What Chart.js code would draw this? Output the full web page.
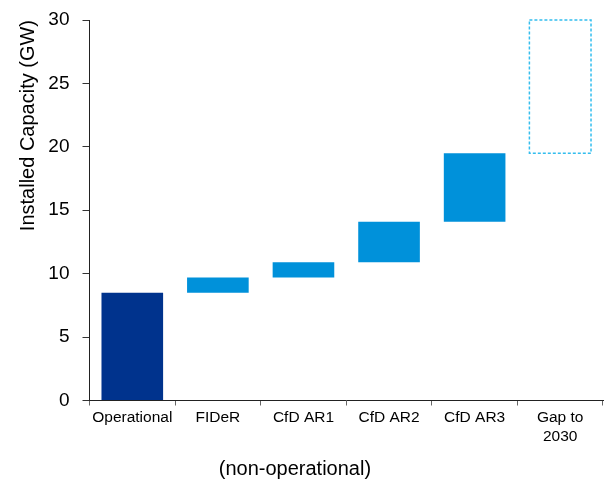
<!DOCTYPE html>
<html>
<head>
<meta charset="utf-8">
<script src="https://cdn.jsdelivr.net/npm/chart.js@4/dist/chart.umd.min.js"></script>
<style>
  html, body { margin: 0; padding: 0; background: #fff; }
  #wrap { width: 612px; height: 479px; }
</style>
</head>
<body>
<div id="wrap"><canvas id="myChart"></canvas></div>
<script>
const categories = ['Operational', 'FIDeR', 'CfD AR1', 'CfD AR2', 'CfD AR3', ['Gap to', '2030']]
const bottoms = [0, 8.5, 9.7, 10.9, 14.1, 19.5]
const tops = [8.5, 9.7, 10.9, 14.1, 19.5, 30]
const yTicks = [0, 5, 10, 15, 20, 25, 30]
const colours = ['#00338d', '#0091da', '#0091da', '#0091da', '#0091da', 'rgba(0,0,0,0)']
const gapIndex = 5

const bars = bottoms.map((b, i) => [b, tops[i]])

// the gap bar gets a dashed outline, bars can't do borderDash on their own
const dashedGap = {
  id: 'dashedGap',
  afterDatasetsDraw(chart) {
    const el = chart.getDatasetMeta(0).data[gapIndex]
    if (!el) return
    const { x, y, base, width } = el.getProps(['x', 'y', 'base', 'width'], true)
    const ctx = chart.ctx
    ctx.save()
    ctx.strokeStyle = '#33bdee'
    ctx.lineWidth = 1.5
    ctx.setLineDash([3, 2])
    ctx.strokeRect(x - width / 2, Math.min(y, base), width, Math.abs(base - y))
    ctx.restore()
  }
}

const subLabel = {
  id: 'subLabel',
  afterDraw(chart) {
    const xs = chart.scales.x
    const ctx = chart.ctx
    ctx.save()
    ctx.fillStyle = '#000'
    ctx.font = '20px "Liberation Sans", Arial, sans-serif'
    ctx.textAlign = 'center'
    ctx.textBaseline = 'middle'
    ctx.fillText('(non-operational)', xs.getPixelForValue(1.9), 469)
    ctx.restore()
  }
}

const ctx = document.getElementById('myChart')

new Chart(ctx, {
  type: 'bar',
  data: {
    labels: categories,
    datasets: [{
      data: bars,
      backgroundColor: colours,
      borderWidth: 0,
      barPercentage: 0.72,
      categoryPercentage: 1
    }]
  },
  options: {
    responsive: true,
    maintainAspectRatio: false,
    animation: false,
    layout: { padding: { left: 12, top: 20, right: 9, bottom: 30.3 } },
    plugins: { legend: { display: false }, tooltip: { enabled: false } },
    scales: {
      x: {
        border: { color: '#222', width: 1 },
        grid: { display: true, drawOnChartArea: false, drawTicks: true, tickLength: 5, color: '#666', offset: true },
        ticks: {
          color: '#000',
          padding: 3,
          maxRotation: 0,
          font: { family: '"Liberation Sans", Arial, sans-serif', size: 15.5 }
        }
      },
      y: {
        min: 0,
        max: 30,
        afterBuildTicks: axis => { axis.ticks = yTicks.map(v => ({ value: v })) },
        afterFit: axis => {
          axis.width = 77.5
          axis.paddingTop = 0
          axis.paddingBottom = 0
        },
        border: { color: '#222', width: 1 },
        grid: { display: true, drawOnChartArea: false, drawTicks: true, tickLength: 7, color: '#333' },
        ticks: {
          color: '#000',
          padding: 13,
          font: { family: '"Liberation Sans", Arial, sans-serif', size: 19 }
        },
        title: {
          display: true,
          text: 'Installed Capacity (GW)',
          align: 'end',
          color: '#000',
          padding: { top: 4, bottom: 4 },
          font: { family: '"Liberation Sans", Arial, sans-serif', size: 20 }
        }
      }
    }
  },
  plugins: [dashedGap, subLabel]
})
</script>
</body>
</html>
